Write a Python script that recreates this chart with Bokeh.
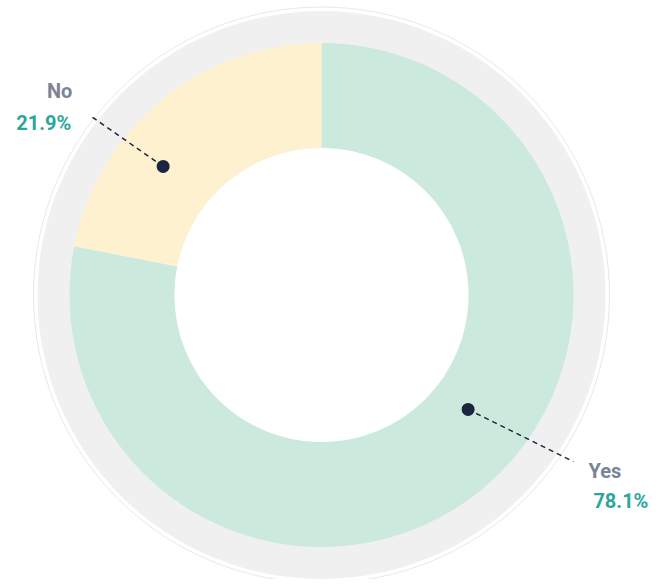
import numpy as np
from bokeh.plotting import figure
from bokeh.models import ColumnDataSource
from bokeh.core.properties import value
from bokeh.embed import file_html
from bokeh.resources import INLINE

# ---- data ----
categories = ["Yes", "No"]
percents = [78.1, 21.9]
pct_labels = ["78.1%", "21.9%"]
colors = ["#cbeadd", "#fdf1cf"]

# ---- layout (pixels) ----
W, H = 651, 579
cx, cy = 321, 284.5
r_in, r_out = 147, 252
r_bg = 284
r_edge = 288

# per-label leader style (pixels / degrees)
dot_r = {"Yes": 186, "No": 204}
dot_shift = {"Yes": 12.6, "No": 11.5}
end_r = {"Yes": 302, "No": 292.5}
end_shift = {"Yes": 17.1, "No": 12.8}
name_xoff = {"Yes": 15, "No": -18}
name_yoff = {"Yes": 9, "No": -25}
pct_xoff = {"Yes": 20, "No": -19}
pct_yoff = {"Yes": 39, "No": 7}

frac = np.array(percents) / sum(percents)
cum = np.concatenate([[0], np.cumsum(frac)])
start = np.pi / 2 - 2 * np.pi * cum[:-1]
end = np.pi / 2 - 2 * np.pi * cum[1:]
mid = (start + end) / 2

p = figure(width=W, height=H, x_range=(0, W), y_range=(0, H),
           output_backend="svg", toolbar_location=None, min_border=0)
p.axis.visible = False
p.grid.visible = False
p.outline_line_color = None
p.background_fill_color = "white"

# outer faint edge and gray ring
p.circle(x=[cx], y=[cy], radius=r_edge, fill_color="white",
         line_color="#e8e8e8", line_width=1)
p.circle(x=[cx], y=[cy], radius=r_bg, fill_color="#f0f0f0", line_color=None)

src = ColumnDataSource(dict(start=start, end=end, color=colors, cat=categories))
p.annular_wedge(x=cx, y=cy, inner_radius=r_in, outer_radius=r_out,
                start_angle="start", end_angle="end", direction="clock",
                fill_color="color", line_color=None, source=src)
p.circle(x=[cx], y=[cy], radius=r_in, fill_color="white", line_color=None)

# leader lines, dots and labels
for i, c in enumerate(categories):
    a_d = mid[i] + np.deg2rad(dot_shift[c])
    a_e = mid[i] + np.deg2rad(end_shift[c])
    dx = cx + dot_r[c] * np.cos(a_d)
    dy = cy + dot_r[c] * np.sin(a_d)
    ex = cx + end_r[c] * np.cos(a_e)
    ey = cy + end_r[c] * np.sin(a_e)
    p.line([dx, ex], [dy, ey], line_color="#1b2540", line_width=1.5, line_dash="5 4")
    p.scatter([dx], [dy], size=13, fill_color="#1b2540", line_color=None)
    align = "left" if np.cos(a_e) > 0 else "right"
    p.text(x=[ex], y=[ey], text=[c], x_offset=name_xoff[c], y_offset=name_yoff[c],
           text_align=align, text_baseline="middle", text_font=value("Roboto"),
           text_font_size="20px", text_font_style="bold", text_color="#7b8496")
    p.text(x=[ex], y=[ey], text=[pct_labels[i]], x_offset=pct_xoff[c], y_offset=pct_yoff[c],
           text_align=align, text_baseline="middle", text_font=value("Roboto"),
           text_font_size="20px", text_font_style="bold", text_color="#2ba69b")

open("out.html", "w").write(file_html(p, INLINE))
